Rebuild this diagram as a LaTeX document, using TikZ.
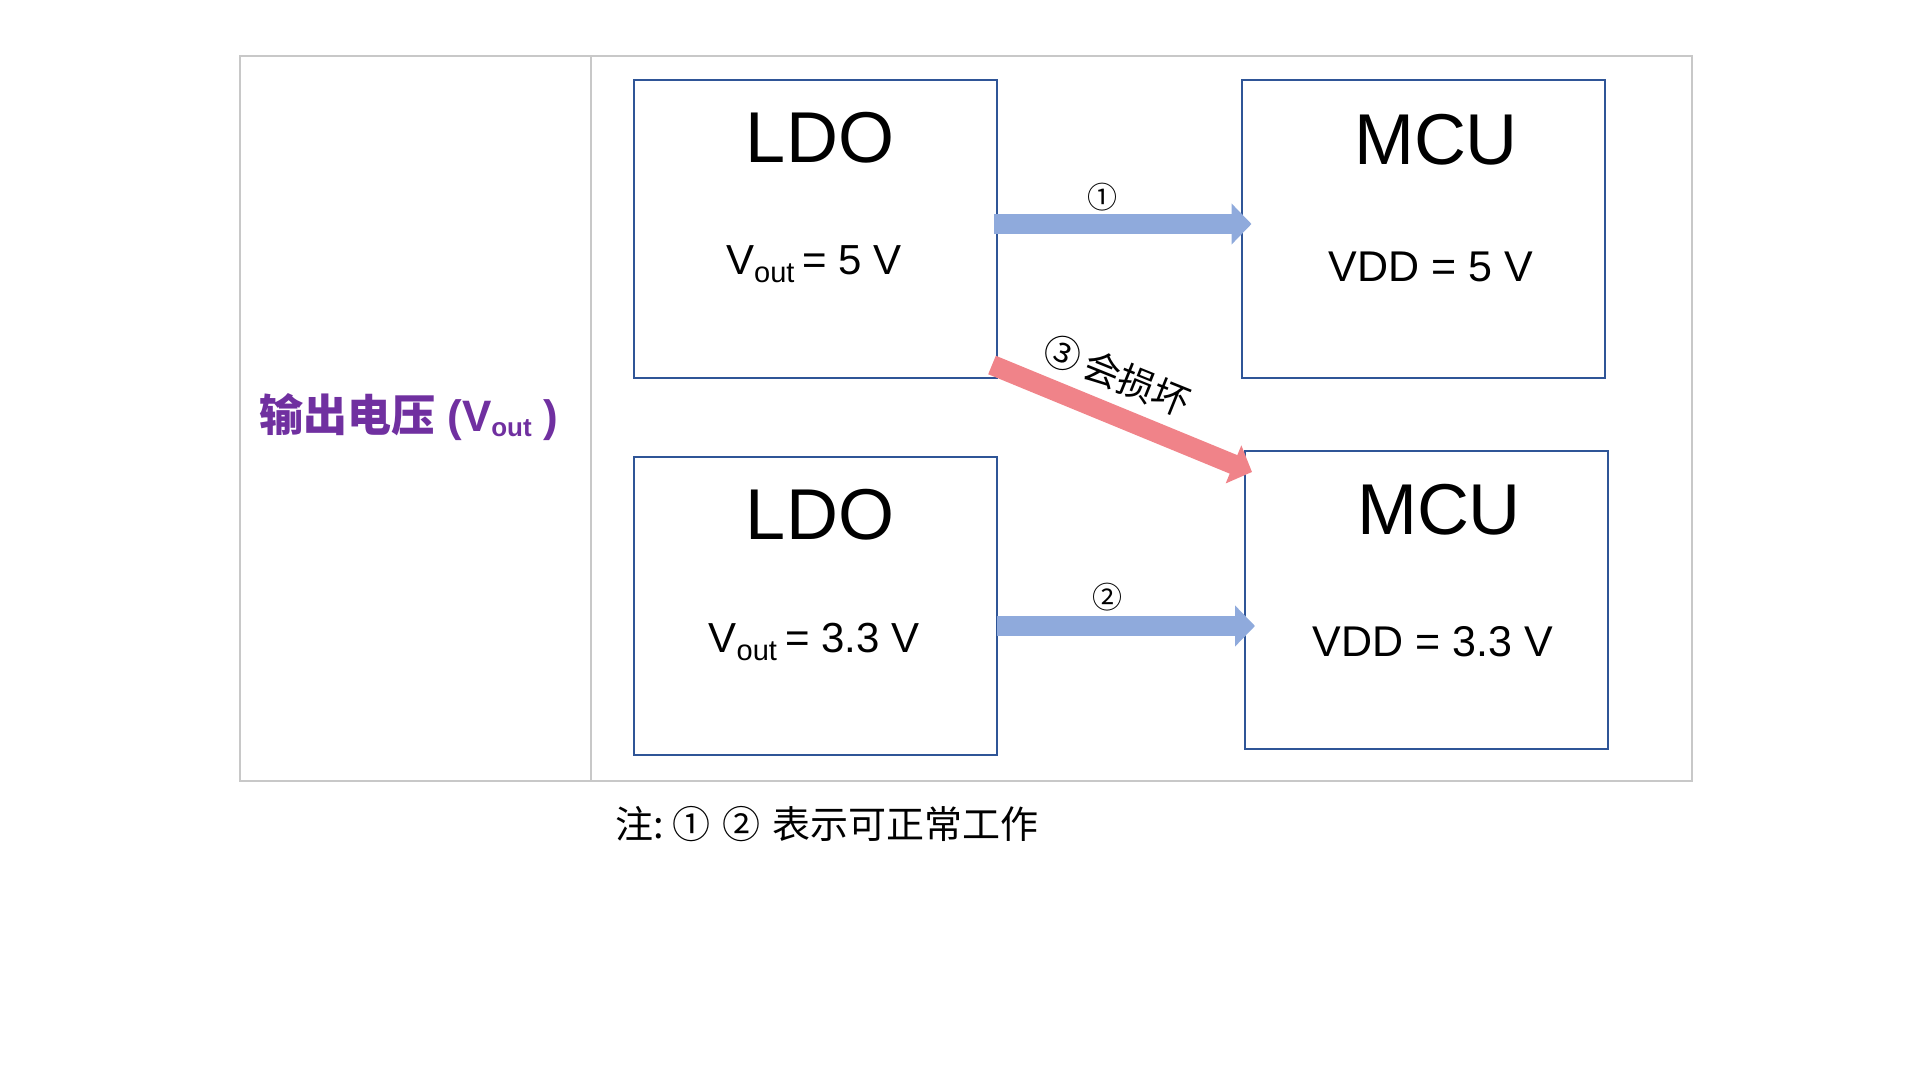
\documentclass[tikz,border=0pt]{standalone}
\usepackage{fontspec}
\setmainfont{Liberation Sans}
\newfontfamily\cjk{Noto Sans CJK SC}
\usetikzlibrary{arrows.meta,calc}
\definecolor{boxblue}{HTML}{2F5597}
\definecolor{okblue}{HTML}{8FAADC}
\definecolor{badred}{HTML}{F08389}
\definecolor{labelpurple}{HTML}{7030A0}
\definecolor{framegray}{HTML}{C8C8C8}
\newcommand{\lowsub}[3]{\raisebox{#1}{\fontsize{#2}{#2}\selectfont #3}}
\tikzset{
  frame/.style={draw=framegray,line width=2pt},
  blockbox/.style={draw=boxblue,line width=2pt,minimum width=363pt,minimum height=298pt,inner sep=0pt},
  title/.style={anchor=base,inner sep=0pt,font=\fontsize{72}{80}\selectfont},
  value/.style={anchor=base,inner sep=0pt,font=\fontsize{42}{48}\selectfont},
  flow/.style={line width=20pt,-{Triangle[width=40pt,length=20pt]}},
  okflow/.style={flow,draw=okblue},
  badflow/.style={flow,draw=badred},
  numlabel/.style={inner sep=0pt,font=\cjk\fontsize{30}{30}\selectfont}}

\begin{document}
\begin{tikzpicture}[x=1pt,y=1pt]
\path[use as bounding box] (0,0) rectangle (1920,1080);
% table frame
\draw[frame] (240,299) rectangle (1692,1024);
\draw[frame] (591,299) -- (591,1024);
\node[inner sep=0pt,anchor=base,text=labelpurple,font=\fontsize{44}{50}\selectfont\bfseries] (rowlabel) at (409,648)
  {{\cjk 输出电压}\hspace{12pt}(V\lowsub{-5pt}{26}{out} )};
% blocks
\node[blockbox] (ldoA) at (815.5,851) {};
\node[blockbox] (mcuA) at (1423,851) {};
\node[blockbox] (ldoB) at (815.5,474) {};
\node[blockbox] (mcuB) at (1426.5,480) {};
\node[title] at (820,917) {LDO};
\node[value] at (814,805) {V\lowsub{-8pt}{29}{out }= 5 V};
\node[title] at (1436,915) {MCU};
\node[value,font=\fontsize{43}{48}\selectfont] at (1431,798) {VDD = 5 V};
\node[title] at (820,540) {LDO};
\node[value] at (814,427) {V\lowsub{-8pt}{29}{out }= 3.3 V};
\node[title] at (1439,545) {MCU};
\node[value,font=\fontsize{43}{48}\selectfont] at (1433,423) {VDD = 3.3 V};
% connections
\draw[okflow] ([shift={(-4,5)}]ldoA.east) -- ([shift={(11,5)}]mcuA.west);
\node[numlabel] (one) at (1102,883) {①};
\draw[okflow] ([shift={(-1,-20)}]ldoB.east) -- ([shift={(11,-26)}]mcuB.west);
\node[numlabel] (two) at (1107,483) {②};
\draw[badflow] ([shift={(-6,14)}]ldoA.south east) -- ([shift={(8,-22)}]mcuB.north west);
\node[inner sep=0pt,rotate=-22,font=\cjk\fontsize{37}{40}\selectfont] (three) at (1117,705) {③\hspace{6pt}会损坏};
% note
\node[inner sep=0pt,font=\cjk\fontsize{38}{40}\selectfont] (note) at (827,256)
  {注:\hspace{8pt}①\hspace{12pt}②\hspace{12pt}表示可正常工作};
\end{tikzpicture}
\end{document}
